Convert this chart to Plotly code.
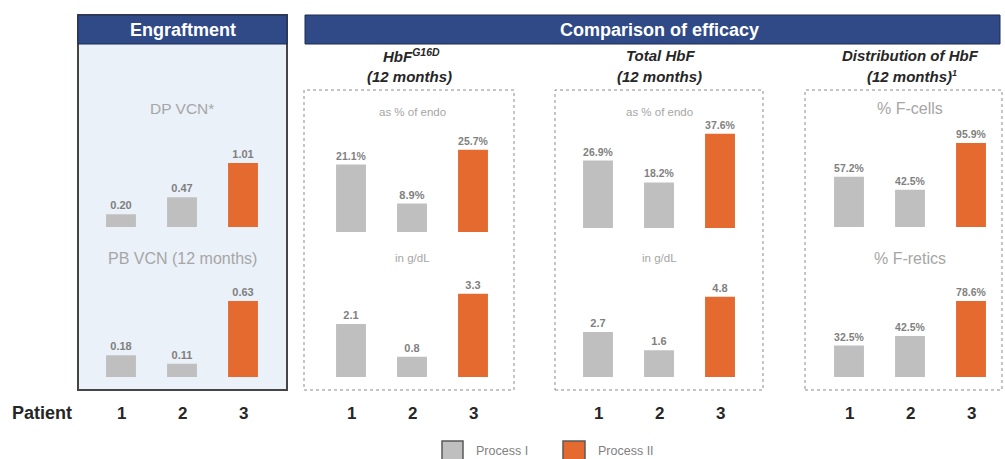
import plotly.graph_objects as go

W, H = 1005, 459

patients = ["1", "2", "3"]
process = ["Process I", "Process I", "Process II"]

dp_vcn = [0.20, 0.47, 1.01]
pb_vcn = [0.18, 0.11, 0.63]
hbf_g16d_pct = [21.1, 8.9, 25.7]
hbf_g16d_gdl = [2.1, 0.8, 3.3]
total_hbf_pct = [26.9, 18.2, 37.6]
total_hbf_gdl = [2.7, 1.6, 4.8]
f_cells_pct = [57.2, 42.5, 95.9]
f_retics_pct = [32.5, 42.5, 78.6]

GRAY = "#BFBFBF"
ORANGE = "#E46A30"
NAVY = "#2F4A87"
colors = {"Process I": GRAY, "Process II": ORANGE}


def px_x(x):
    return x / W


def px_y(y):
    return 1 - y / H


def label(text, x, y, size, color, xref="paper", xanchor="center"):
    return dict(text=text, xref=xref, yref="paper", x=x, y=y,
                showarrow=False, xanchor=xanchor, yanchor="middle",
                font=dict(size=size, color=color))


# (values, label format, subtitle, subtitle size, x-domain px, baseline px, y max)
charts = [
    (dp_vcn, "{:.2f}", "DP VCN*", 15.5, (90.5, 273.5), 227, 1.688),
    (pb_vcn, "{:.2f}", "PB VCN (12 months)", 16, (90.5, 273.5), 377, 0.887),
    (hbf_g16d_pct, "{:.1f}%", "as % of endo", 11.5, (320.5, 503.5), 232, 33.43),
    (hbf_g16d_gdl, "{:.1f}", "in g/dL", 11.5, (320.5, 503.5), 377, 4.246),
    (total_hbf_pct, "{:.1f}%", "as % of endo", 11.5, (567.5, 750.5), 228, 42.69),
    (total_hbf_gdl, "{:.1f}", "in g/dL", 11.5, (567.5, 750.5), 377, 6.407),
    (f_cells_pct, "{:.1f}%", "% F-cells", 16, (818.5, 1001.5), 227, 122.1),
    (f_retics_pct, "{:.1f}%", "% F-retics", 16, (818.5, 1001.5), 377, 110.65),
]
SUB_Y = {227: 108, 228: 112, 232: 112, 377: 258}
CHART_H = 107

fig = go.Figure()
layout = {}
annotations = []
shapes = []

# Panel frames
shapes.append(dict(type="rect", xref="paper", yref="paper", layer="below",
                   x0=px_x(78), x1=px_x(287), y0=px_y(390), y1=px_y(15),
                   fillcolor="#EBF1F9", line=dict(color="#454545", width=2)))
shapes.append(dict(type="rect", xref="paper", yref="paper", layer="below",
                   x0=px_x(78), x1=px_x(287), y0=px_y(44), y1=px_y(15),
                   fillcolor=NAVY, line=dict(color="#1E2D52", width=1)))
shapes.append(dict(type="rect", xref="paper", yref="paper", layer="below",
                   x0=px_x(305), x1=px_x(1000), y0=px_y(44), y1=px_y(15),
                   fillcolor=NAVY, line=dict(color="#1E2D52", width=1)))
for x0, x1 in [(304, 514), (555, 763), (805, 1002)]:
    shapes.append(dict(type="rect", xref="paper", yref="paper", layer="below",
                       x0=px_x(x0), x1=px_x(x1), y0=px_y(390), y1=px_y(90),
                       fillcolor="rgba(0,0,0,0)",
                       line=dict(color="#8C8C8C", width=1, dash="dot")))

for i, (vals, fmt, sub, sub_size, (xa, xb), base, ymax) in enumerate(charts):
    n = "" if i == 0 else str(i + 1)
    xref, yref = "x" + n, "y" + n
    fig.add_trace(go.Bar(
        x=patients, y=vals, xaxis=xref, yaxis=yref,
        marker=dict(color=[colors[p] for p in process], line=dict(width=0)),
        width=0.49,
        text=[fmt.format(v) for v in vals], textposition="outside",
        textfont=dict(size=11, color="#7F7F7F", family="Arial, Liberation Sans"),
        texttemplate="<b>%{text}</b>", cliponaxis=False,
        showlegend=False, hoverinfo="skip",
    ))
    layout["xaxis" + n] = dict(domain=[px_x(xa), px_x(xb)], anchor=yref,
                               range=[-0.5, 2.5], visible=False,
                               type="category")
    layout["yaxis" + n] = dict(domain=[px_y(base), px_y(base - CHART_H)],
                               anchor=xref, range=[0, ymax], visible=False)
    annotations.append(label(sub, px_x((xa + xb) / 2), px_y(SUB_Y[base]),
                             sub_size, "#A6A6A6"))
    if i % 2 == 1:
        for k, p in enumerate(patients):
            annotations.append(label("<b>%s</b>" % p, k, px_y(413), 17,
                                     "#262626", xref=xref))

annotations.append(label("<b>Patient</b>", px_x(42), px_y(413), 18, "#262626"))

# Header bands
annotations.append(label("<b>Engraftment</b>", px_x(182.5), px_y(30), 18,
                         "white"))
annotations.append(label("<b>Comparison of efficacy</b>", px_x(659),
                         px_y(30), 18, "white"))

# Panel titles
for cx, t in [(411, "<b><i>HbF<sup>G16D</sup></i></b>"),
              (660, "<b><i>Total HbF</i></b>"),
              (910, "<b><i>Distribution of HbF</i></b>")]:
    annotations.append(label(t, px_x(cx), px_y(56), 15, "#262626"))
for cx, t in [(409, "<b><i>(12 months)</i></b>"),
              (659, "<b><i>(12 months)</i></b>"),
              (912, "<b><i>(12 months)<sup><span style='font-size:9px'>1"
                    "</span></sup></i></b>")]:
    annotations.append(label(t, px_x(cx), px_y(76), 15, "#262626"))

# Legend
for (x0, x1), name, lx, col in [((442, 463), "Process I", 474, GRAY),
                                 ((563, 585), "Process II", 596, ORANGE)]:
    shapes.append(dict(type="rect", xref="paper", yref="paper",
                       x0=px_x(x0), x1=px_x(x1), y0=px_y(462), y1=px_y(441),
                       fillcolor=col, line=dict(color="#595959", width=1.5)))
    annotations.append(label(name, px_x(lx), px_y(450.5), 12.5, "#7F7F7F",
                             xanchor="left"))

fig.update_layout(
    width=W, height=H, margin=dict(l=0, r=0, t=0, b=0),
    paper_bgcolor="white", plot_bgcolor="rgba(0,0,0,0)",
    font=dict(family="Arial, Liberation Sans, sans-serif"),
    shapes=shapes, annotations=annotations, bargap=0.5,
    **layout,
)

fig.write_html("out.html")
